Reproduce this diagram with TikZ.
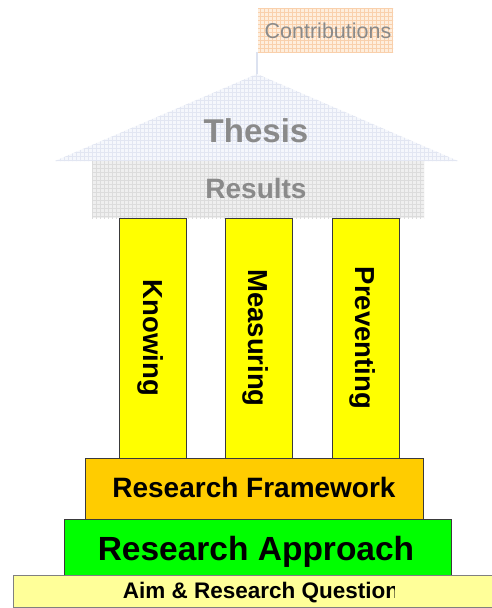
\documentclass[tikz,border=0pt]{standalone}
\usepackage{fontspec}
\setmainfont{Liberation Sans}
\definecolor{rooffill}{HTML}{F5F7FC}
\definecolor{roofgrid}{HTML}{E2E6F2}
\definecolor{resfill}{HTML}{EFEFEF}
\definecolor{resgrid}{HTML}{DCDCDC}
\definecolor{confill}{HTML}{FEEEDD}
\definecolor{congrid}{HTML}{F9D0AC}
\definecolor{ghosttext}{HTML}{8A8A8A}
\definecolor{polecol}{HTML}{DCE2F0}
\definecolor{pillarfill}{HTML}{FFFF00}
\definecolor{framefill}{HTML}{FFCC00}
\definecolor{approachfill}{HTML}{00FF00}
\definecolor{aimfill}{HTML}{FFFF99}
\definecolor{edgecol}{HTML}{3A3A3A}
\tikzset{
  slab/.style={draw=edgecol, line width=1pt, inner sep=0pt, anchor=north west},
  pillarbox/.style={slab, fill=pillarfill, minimum width=67pt, minimum height=240pt},
  pillartext/.style={anchor=base, rotate=-90, inner sep=0pt, font=\fontsize{27.5}{30}\selectfont\bfseries},
  basetext/.style={anchor=base, inner sep=0pt},
  gridlines/.style={line width=0.4pt, xstep=4pt, ystep=4pt},
}
\begin{document}
\begin{tikzpicture}[x=1pt,y=-1pt]
\clip (0,0) rectangle (492,608);
\fill[white] (0,0) rectangle (492,608);
% roof
\coordinate (apex) at (257,74);
\begin{scope}
  \clip (55,161) -- (apex) -- (458,161) -- cycle;
  \fill[rooffill] (50,70) rectangle (460,162);
  \draw[roofgrid, gridlines] (50,164) grid (460,68);
\end{scope}
% results
\begin{scope}
  \clip (92,161) rectangle (424,218);
  \fill[resfill] (92,161) rectangle (424,218);
  \draw[resgrid, gridlines] (88,220) grid (428,160);
\end{scope}
\node[inner sep=0pt, minimum width=332pt, minimum height=57pt, anchor=north west] (results) at (92,161) {};
% contributions
\begin{scope}
  \clip (258,8) rectangle (393,52);
  \fill[confill] (258,8) rectangle (393,52);
  \draw[congrid, gridlines] (256,52) grid (396,8);
\end{scope}
\node[inner sep=0pt, minimum width=135pt, minimum height=44pt, anchor=north west] (contrib) at (258,8) {};
\draw[polecol, line width=1.5pt] (contrib.south west) ++(-1,0) coordinate (polefoot) -- (polefoot |- apex);
\node[basetext, text=ghosttext, font=\fontsize{21.5}{24}\selectfont] (contribtext) at (328,38) {Contributions};
\node[basetext, text=ghosttext, font=\fontsize{33}{38}\selectfont\bfseries] (thesis) at (256,142) {Thesis};
\node[basetext, text=ghosttext, font=\fontsize{28}{32}\selectfont\bfseries] (resultstext) at (256,198) {Results};
% pillars
\node[pillarbox] (p1) at (119,218) {};
\node[pillarbox] (p2) at (225,218) {};
\node[pillarbox] (p3) at (332,218) {};
\node[pillartext] (k) at (143,338) {Knowing};
\node[pillartext] (m) at (248.5,338) {Measuring};
\node[pillartext] (pv) at (355,338) {Preventing};
% base slabs
\node[slab, fill=framefill, minimum width=338pt, minimum height=61pt] (frame) at (85,458) {};
\node[basetext, font=\fontsize{28}{31}\selectfont\bfseries] (frametext) at (254,497) {Research Framework};
\node[slab, fill=approachfill, minimum width=387pt, minimum height=56pt] (approach) at (64,519) {};
\node[basetext, font=\fontsize{33.5}{38}\selectfont\bfseries] (approachtext) at (256,560) {Research Approach};
\node[slab, draw=gray, fill=aimfill, minimum width=500pt, minimum height=32pt] (aim) at (13,575) {};
\begin{scope}
  \clip (13,575) rectangle (394,608);
  \node[basetext, font=\fontsize{22.5}{26}\selectfont\bfseries] (aimtext) at (261,598) {Aim \& Research Question};
\end{scope}
\end{tikzpicture}
\end{document}
